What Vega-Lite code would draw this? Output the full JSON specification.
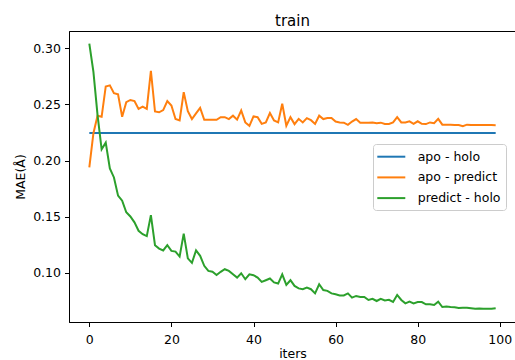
{
  "$schema": "https://vega.github.io/schema/vega-lite/v6.json",
  "width": 447,
  "height": 291,
  "autosize": {"type": "none"},
  "padding": {"left": 69, "top": 31, "right": 0, "bottom": 38},
  "background": "white",
  "view": {"stroke": "black", "strokeWidth": 1},
  "title": {"text": "train", "fontSize": 15, "font": "DejaVu Sans", "fontWeight": "normal", "baseline": "alphabetic", "offset": 8, "dy": 17.5, "anchor": "middle", "color": "black"},
  "data": {"values": [
    {"iter": 0, "apo - holo": 0.2245, "apo - predict": 0.194, "predict - holo": 0.3042},
    {"iter": 1, "apo - holo": 0.2245, "apo - predict": 0.2244, "predict - holo": 0.279},
    {"iter": 2, "apo - holo": 0.2245, "apo - predict": 0.240, "predict - holo": 0.2408},
    {"iter": 3, "apo - holo": 0.2245, "apo - predict": 0.239, "predict - holo": 0.210},
    {"iter": 4, "apo - holo": 0.2245, "apo - predict": 0.266, "predict - holo": 0.216},
    {"iter": 5, "apo - holo": 0.2245, "apo - predict": 0.267, "predict - holo": 0.193},
    {"iter": 6, "apo - holo": 0.2245, "apo - predict": 0.260, "predict - holo": 0.185},
    {"iter": 7, "apo - holo": 0.2245, "apo - predict": 0.259, "predict - holo": 0.1688},
    {"iter": 8, "apo - holo": 0.2245, "apo - predict": 0.239, "predict - holo": 0.1643},
    {"iter": 9, "apo - holo": 0.2245, "apo - predict": 0.252, "predict - holo": 0.154},
    {"iter": 10, "apo - holo": 0.2245, "apo - predict": 0.254, "predict - holo": 0.1503},
    {"iter": 11, "apo - holo": 0.2245, "apo - predict": 0.253, "predict - holo": 0.145},
    {"iter": 12, "apo - holo": 0.2245, "apo - predict": 0.246, "predict - holo": 0.1375},
    {"iter": 13, "apo - holo": 0.2245, "apo - predict": 0.248, "predict - holo": 0.1345},
    {"iter": 14, "apo - holo": 0.2245, "apo - predict": 0.246, "predict - holo": 0.1328},
    {"iter": 15, "apo - holo": 0.2245, "apo - predict": 0.280, "predict - holo": 0.1515},
    {"iter": 16, "apo - holo": 0.2245, "apo - predict": 0.2437, "predict - holo": 0.1247},
    {"iter": 17, "apo - holo": 0.2245, "apo - predict": 0.243, "predict - holo": 0.1217},
    {"iter": 18, "apo - holo": 0.2245, "apo - predict": 0.245, "predict - holo": 0.120},
    {"iter": 19, "apo - holo": 0.2245, "apo - predict": 0.253, "predict - holo": 0.1247},
    {"iter": 20, "apo - holo": 0.2245, "apo - predict": 0.249, "predict - holo": 0.1196},
    {"iter": 21, "apo - holo": 0.2245, "apo - predict": 0.237, "predict - holo": 0.119},
    {"iter": 22, "apo - holo": 0.2245, "apo - predict": 0.2357, "predict - holo": 0.1146},
    {"iter": 23, "apo - holo": 0.2245, "apo - predict": 0.261, "predict - holo": 0.135},
    {"iter": 24, "apo - holo": 0.2245, "apo - predict": 0.244, "predict - holo": 0.113},
    {"iter": 25, "apo - holo": 0.2245, "apo - predict": 0.237, "predict - holo": 0.109},
    {"iter": 26, "apo - holo": 0.2245, "apo - predict": 0.242, "predict - holo": 0.120},
    {"iter": 27, "apo - holo": 0.2245, "apo - predict": 0.247, "predict - holo": 0.1152},
    {"iter": 28, "apo - holo": 0.2245, "apo - predict": 0.2363, "predict - holo": 0.1063},
    {"iter": 29, "apo - holo": 0.2245, "apo - predict": 0.2363, "predict - holo": 0.1018},
    {"iter": 30, "apo - holo": 0.2245, "apo - predict": 0.2363, "predict - holo": 0.101},
    {"iter": 31, "apo - holo": 0.2245, "apo - predict": 0.2363, "predict - holo": 0.0982},
    {"iter": 32, "apo - holo": 0.2245, "apo - predict": 0.2387, "predict - holo": 0.101},
    {"iter": 33, "apo - holo": 0.2245, "apo - predict": 0.2387, "predict - holo": 0.1033},
    {"iter": 34, "apo - holo": 0.2245, "apo - predict": 0.237, "predict - holo": 0.1018},
    {"iter": 35, "apo - holo": 0.2245, "apo - predict": 0.240, "predict - holo": 0.0988},
    {"iter": 36, "apo - holo": 0.2245, "apo - predict": 0.2365, "predict - holo": 0.0958},
    {"iter": 37, "apo - holo": 0.2245, "apo - predict": 0.2446, "predict - holo": 0.0997},
    {"iter": 38, "apo - holo": 0.2245, "apo - predict": 0.234, "predict - holo": 0.0944},
    {"iter": 39, "apo - holo": 0.2245, "apo - predict": 0.231, "predict - holo": 0.0988},
    {"iter": 40, "apo - holo": 0.2245, "apo - predict": 0.2393, "predict - holo": 0.098},
    {"iter": 41, "apo - holo": 0.2245, "apo - predict": 0.2387, "predict - holo": 0.0958},
    {"iter": 42, "apo - holo": 0.2245, "apo - predict": 0.2327, "predict - holo": 0.092},
    {"iter": 43, "apo - holo": 0.2245, "apo - predict": 0.234, "predict - holo": 0.0935},
    {"iter": 44, "apo - holo": 0.2245, "apo - predict": 0.2423, "predict - holo": 0.095},
    {"iter": 45, "apo - holo": 0.2245, "apo - predict": 0.2357, "predict - holo": 0.0915},
    {"iter": 46, "apo - holo": 0.2245, "apo - predict": 0.234, "predict - holo": 0.0905},
    {"iter": 47, "apo - holo": 0.2245, "apo - predict": 0.2506, "predict - holo": 0.0988},
    {"iter": 48, "apo - holo": 0.2245, "apo - predict": 0.231, "predict - holo": 0.0893},
    {"iter": 49, "apo - holo": 0.2245, "apo - predict": 0.2387, "predict - holo": 0.0935},
    {"iter": 50, "apo - holo": 0.2245, "apo - predict": 0.2325, "predict - holo": 0.0884},
    {"iter": 51, "apo - holo": 0.2245, "apo - predict": 0.2372, "predict - holo": 0.0862},
    {"iter": 52, "apo - holo": 0.2245, "apo - predict": 0.234, "predict - holo": 0.0855},
    {"iter": 53, "apo - holo": 0.2245, "apo - predict": 0.2378, "predict - holo": 0.0869},
    {"iter": 54, "apo - holo": 0.2245, "apo - predict": 0.236, "predict - holo": 0.0855},
    {"iter": 55, "apo - holo": 0.2245, "apo - predict": 0.2327, "predict - holo": 0.0818},
    {"iter": 56, "apo - holo": 0.2245, "apo - predict": 0.240, "predict - holo": 0.0899},
    {"iter": 57, "apo - holo": 0.2245, "apo - predict": 0.237, "predict - holo": 0.0848},
    {"iter": 58, "apo - holo": 0.2245, "apo - predict": 0.238, "predict - holo": 0.084},
    {"iter": 59, "apo - holo": 0.2245, "apo - predict": 0.238, "predict - holo": 0.0818},
    {"iter": 60, "apo - holo": 0.2245, "apo - predict": 0.2348, "predict - holo": 0.081},
    {"iter": 61, "apo - holo": 0.2245, "apo - predict": 0.234, "predict - holo": 0.080},
    {"iter": 62, "apo - holo": 0.2245, "apo - predict": 0.2338, "predict - holo": 0.080},
    {"iter": 63, "apo - holo": 0.2245, "apo - predict": 0.2318, "predict - holo": 0.0818},
    {"iter": 64, "apo - holo": 0.2245, "apo - predict": 0.2348, "predict - holo": 0.078},
    {"iter": 65, "apo - holo": 0.2245, "apo - predict": 0.237, "predict - holo": 0.0795},
    {"iter": 66, "apo - holo": 0.2245, "apo - predict": 0.2338, "predict - holo": 0.0786},
    {"iter": 67, "apo - holo": 0.2245, "apo - predict": 0.2338, "predict - holo": 0.0786},
    {"iter": 68, "apo - holo": 0.2245, "apo - predict": 0.2338, "predict - holo": 0.0759},
    {"iter": 69, "apo - holo": 0.2245, "apo - predict": 0.234, "predict - holo": 0.077},
    {"iter": 70, "apo - holo": 0.2245, "apo - predict": 0.2333, "predict - holo": 0.075},
    {"iter": 71, "apo - holo": 0.2245, "apo - predict": 0.2338, "predict - holo": 0.077},
    {"iter": 72, "apo - holo": 0.2245, "apo - predict": 0.2327, "predict - holo": 0.0755},
    {"iter": 73, "apo - holo": 0.2245, "apo - predict": 0.2327, "predict - holo": 0.076},
    {"iter": 74, "apo - holo": 0.2245, "apo - predict": 0.234, "predict - holo": 0.0741},
    {"iter": 75, "apo - holo": 0.2245, "apo - predict": 0.2387, "predict - holo": 0.0804},
    {"iter": 76, "apo - holo": 0.2245, "apo - predict": 0.234, "predict - holo": 0.0759},
    {"iter": 77, "apo - holo": 0.2245, "apo - predict": 0.234, "predict - holo": 0.0729},
    {"iter": 78, "apo - holo": 0.2245, "apo - predict": 0.235, "predict - holo": 0.0744},
    {"iter": 79, "apo - holo": 0.2245, "apo - predict": 0.2327, "predict - holo": 0.0729},
    {"iter": 80, "apo - holo": 0.2245, "apo - predict": 0.235, "predict - holo": 0.074},
    {"iter": 81, "apo - holo": 0.2245, "apo - predict": 0.2327, "predict - holo": 0.074},
    {"iter": 82, "apo - holo": 0.2245, "apo - predict": 0.2325, "predict - holo": 0.072},
    {"iter": 83, "apo - holo": 0.2245, "apo - predict": 0.234, "predict - holo": 0.072},
    {"iter": 84, "apo - holo": 0.2245, "apo - predict": 0.2333, "predict - holo": 0.0714},
    {"iter": 85, "apo - holo": 0.2245, "apo - predict": 0.2372, "predict - holo": 0.0744},
    {"iter": 86, "apo - holo": 0.2245, "apo - predict": 0.232, "predict - holo": 0.0696},
    {"iter": 87, "apo - holo": 0.2245, "apo - predict": 0.232, "predict - holo": 0.070},
    {"iter": 88, "apo - holo": 0.2245, "apo - predict": 0.232, "predict - holo": 0.0696},
    {"iter": 89, "apo - holo": 0.2245, "apo - predict": 0.2318, "predict - holo": 0.0694},
    {"iter": 90, "apo - holo": 0.2245, "apo - predict": 0.2317, "predict - holo": 0.0688},
    {"iter": 91, "apo - holo": 0.2245, "apo - predict": 0.2306, "predict - holo": 0.069},
    {"iter": 92, "apo - holo": 0.2245, "apo - predict": 0.232, "predict - holo": 0.069},
    {"iter": 93, "apo - holo": 0.2245, "apo - predict": 0.2318, "predict - holo": 0.0685},
    {"iter": 94, "apo - holo": 0.2245, "apo - predict": 0.2318, "predict - holo": 0.068},
    {"iter": 95, "apo - holo": 0.2245, "apo - predict": 0.2317, "predict - holo": 0.0683},
    {"iter": 96, "apo - holo": 0.2245, "apo - predict": 0.2317, "predict - holo": 0.0682},
    {"iter": 97, "apo - holo": 0.2245, "apo - predict": 0.2316, "predict - holo": 0.068},
    {"iter": 98, "apo - holo": 0.2245, "apo - predict": 0.2316, "predict - holo": 0.068},
    {"iter": 99, "apo - holo": 0.2245, "apo - predict": 0.2315, "predict - holo": 0.0685}
  ]},
  "transform": [{"fold": ["apo - holo", "apo - predict", "predict - holo"], "as": ["series", "mae"]}],
  "mark": {"type": "line", "strokeWidth": 2},
  "encoding": {
    "x": {"field": "iter", "type": "quantitative",
      "scale": {"domain": [-4.95, 103.95], "nice": false, "zero": false},
      "axis": {"values": [0, 20, 40, 60, 80, 100], "title": "iters", "titlePadding": 2, "labelPadding": 6.5}},
    "y": {"field": "mae", "type": "quantitative",
      "scale": {"domain": [0.0563, 0.3154], "nice": false, "zero": false},
      "axis": {"values": [0.1, 0.15, 0.2, 0.25, 0.3], "format": ".2f", "title": "MAE(Å)", "titlePadding": 5}},
    "color": {"field": "series", "type": "nominal",
      "scale": {"domain": ["apo - holo", "apo - predict", "predict - holo"], "range": ["#1f77b4", "#ff7f0e", "#2ca02c"]},
      "legend": {"orient": "none", "legendX": 304, "legendY": 113, "title": null}}
  },
  "config": {
    "view": {"stroke": "black", "strokeWidth": 1},
    "axis": {"domainColor": "black", "domainWidth": 1, "tickColor": "black", "tickSize": 4.5, "tickWidth": 1,
      "labelFont": "DejaVu Sans", "labelFontSize": 12.5, "labelColor": "black", "labelPadding": 4,
      "titleFont": "DejaVu Sans", "titleFontSize": 12.5, "titleFontWeight": "normal", "titleColor": "black", "grid": false},
    "legend": {"strokeColor": "#cccccc", "fillColor": "white", "cornerRadius": 3, "padding": 4.7,
      "labelFont": "DejaVu Sans", "labelFontSize": 12.5, "labelColor": "black",
      "symbolType": "M-1.2,0H2.8", "symbolStrokeWidth": 2, "symbolSize": 196, "labelOffset": 24, "rowPadding": 5.7}
  }
}
